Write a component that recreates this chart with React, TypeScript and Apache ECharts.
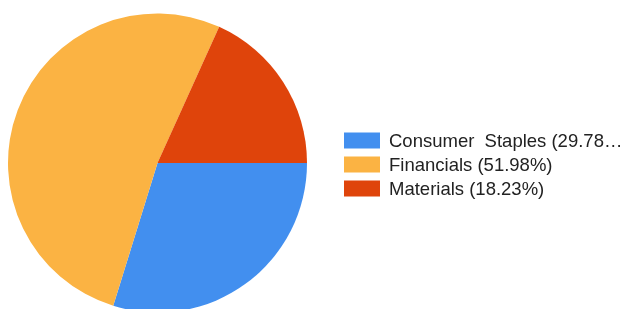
import React, { useEffect, useRef } from "react";
import * as echarts from "echarts";

const categories = ["Consumer  Staples", "Financials", "Materials"];
const values = [29.78, 51.98, 18.23];
const colors = ["#428FEF", "#FBB343", "#DF440B"];

const FONT_FAMILY = "Liberation Sans, Arial, sans-serif";
const FONT_SIZE = 18.5;
const LABEL_MAX_WIDTH = 236;

function fitLabel(text: string): string {
  const canvas = document.createElement("canvas");
  const ctx = canvas.getContext("2d");
  if (!ctx) return text;
  ctx.font = `${FONT_SIZE}px ${FONT_FAMILY}`;
  if (ctx.measureText(text).width <= LABEL_MAX_WIDTH) return text;
  const ell = "…";
  for (let n = text.length - 1; n > 0; n--) {
    const t = text.slice(0, n) + ell;
    if (ctx.measureText(t).width <= LABEL_MAX_WIDTH) return t;
  }
  return ell;
}

export default function App() {
  const ref = useRef<HTMLDivElement>(null);
  useEffect(() => {
    if (!ref.current) return;
    const chart = echarts.init(ref.current, undefined, { renderer: "svg" });
    const data = categories.map((c, i) => ({ name: c, value: values[i], itemStyle: { color: colors[i] } }));
    chart.setOption({
      animation: false,
      legend: {
        orient: "vertical",
        left: 339,
        top: 126,
        itemWidth: 36,
        itemHeight: 16,
        itemGap: 5,
        icon: "rect",
        selectedMode: false,
        formatter: (name: string) => {
          const i = categories.indexOf(name);
          return fitLabel(`${name} (${values[i].toFixed(2)}%)`);
        },
        textStyle: {
          fontFamily: FONT_FAMILY,
          fontSize: FONT_SIZE,
          color: "#222",
          lineHeight: 16,
          padding: [0, 0, 0, 4],
        },
        data: categories,
      },
      series: [
        {
          type: "pie",
          center: [157.5, 163],
          radius: [0, 149.5],
          startAngle: 0,
          clockwise: true,
          label: { show: false },
          labelLine: { show: false },
          emphasis: { disabled: true },
          silent: true,
          itemStyle: { borderWidth: 0 },
          data,
        },
      ],
    });
    return () => chart.dispose();
  }, []);
  return <div ref={ref} style={{ position: "fixed", left: 0, top: 0, width: 627, height: 309 }} />;
}
